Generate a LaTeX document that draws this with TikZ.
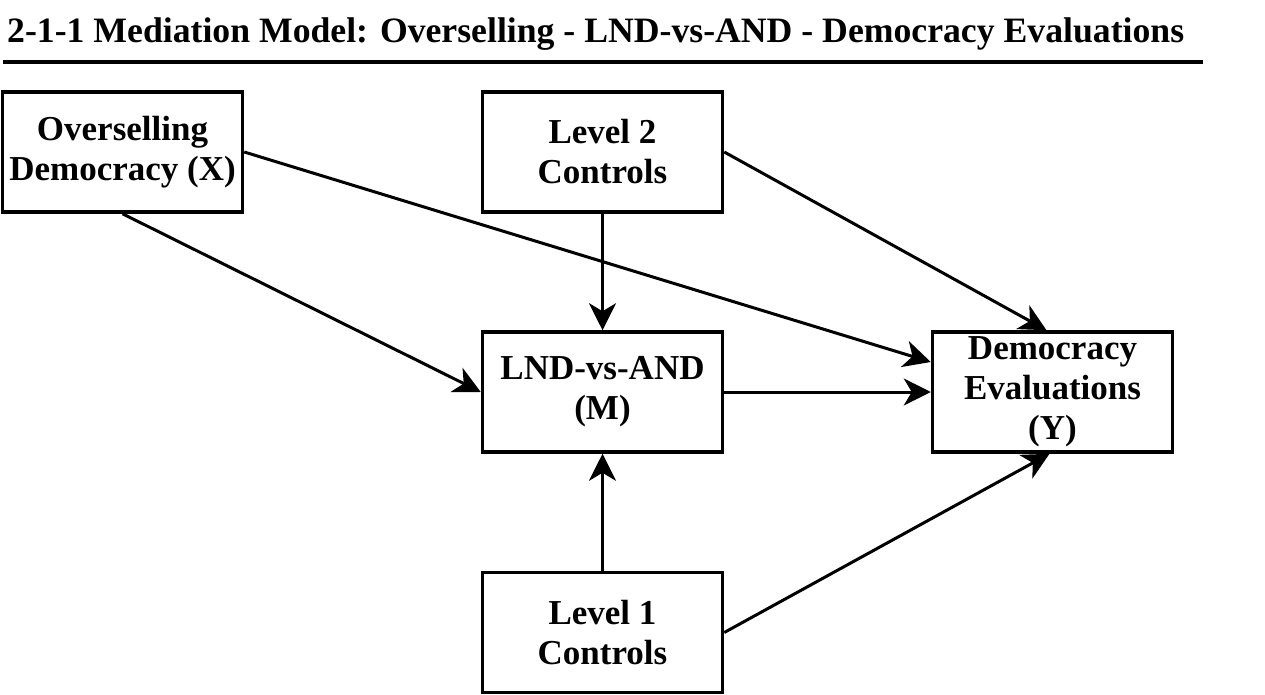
\documentclass[tikz,border=0pt]{standalone}
\usepackage{fontspec}
\setmainfont{Liberation Serif}
\usepackage{tikz}
\usetikzlibrary{arrows.meta}

\begin{document}
\begin{tikzpicture}[x=1pt,y=-1pt,
	box/.style={draw,line width=3.5pt,minimum width=240pt,minimum height=120pt,inner sep=0pt,align=center,font=\fontsize{35}{40}\selectfont\bfseries},
	link/.style={line width=3pt,-{Stealth[length=27pt,width=27pt,inset=8pt]}}]
			\useasboundingbox (0,0) rectangle (1265,695);
			\node[anchor=base west,inner sep=0pt,font=\fontsize{35.7}{40}\selectfont\bfseries] (title) at (7,43) {2-1-1 Mediation Model: Overselling - LND-vs-AND - Democracy Evaluations};
			\draw[line width=3.5pt] (3,62) -- (1203,62);
			\node[box] (ox) at (122.5,152) {Overselling\\Democracy (X)};
			\node[box] (ctrltwo) at (602.5,152) {Level 2\\Controls};
			\node[box] (med) at (602.5,392) {LND-vs-AND\\(M)};
			\node[box] (dv) at (1052.5,392) {Democracy\\Evaluations\\(Y)};
			\node[box] (ctrlone) at (602.5,632.5) {Level 1\\Controls};
			\draw[link] (ox.east) -- ([yshift=30pt]dv.west);
			\draw[link] (ox.south) -- (med.west);
			\draw[link] (ctrltwo.south) -- (med.north);
			\draw[link] (ctrltwo.east) -- ([xshift=-6pt]dv.north);
			\draw[link] (med.east) -- (dv.west);
			\draw[link] (ctrlone.north) -- (med.south);
			\draw[link] (ctrlone.east) -- ([xshift=-3pt]dv.south);
		\end{tikzpicture}
\end{document}
